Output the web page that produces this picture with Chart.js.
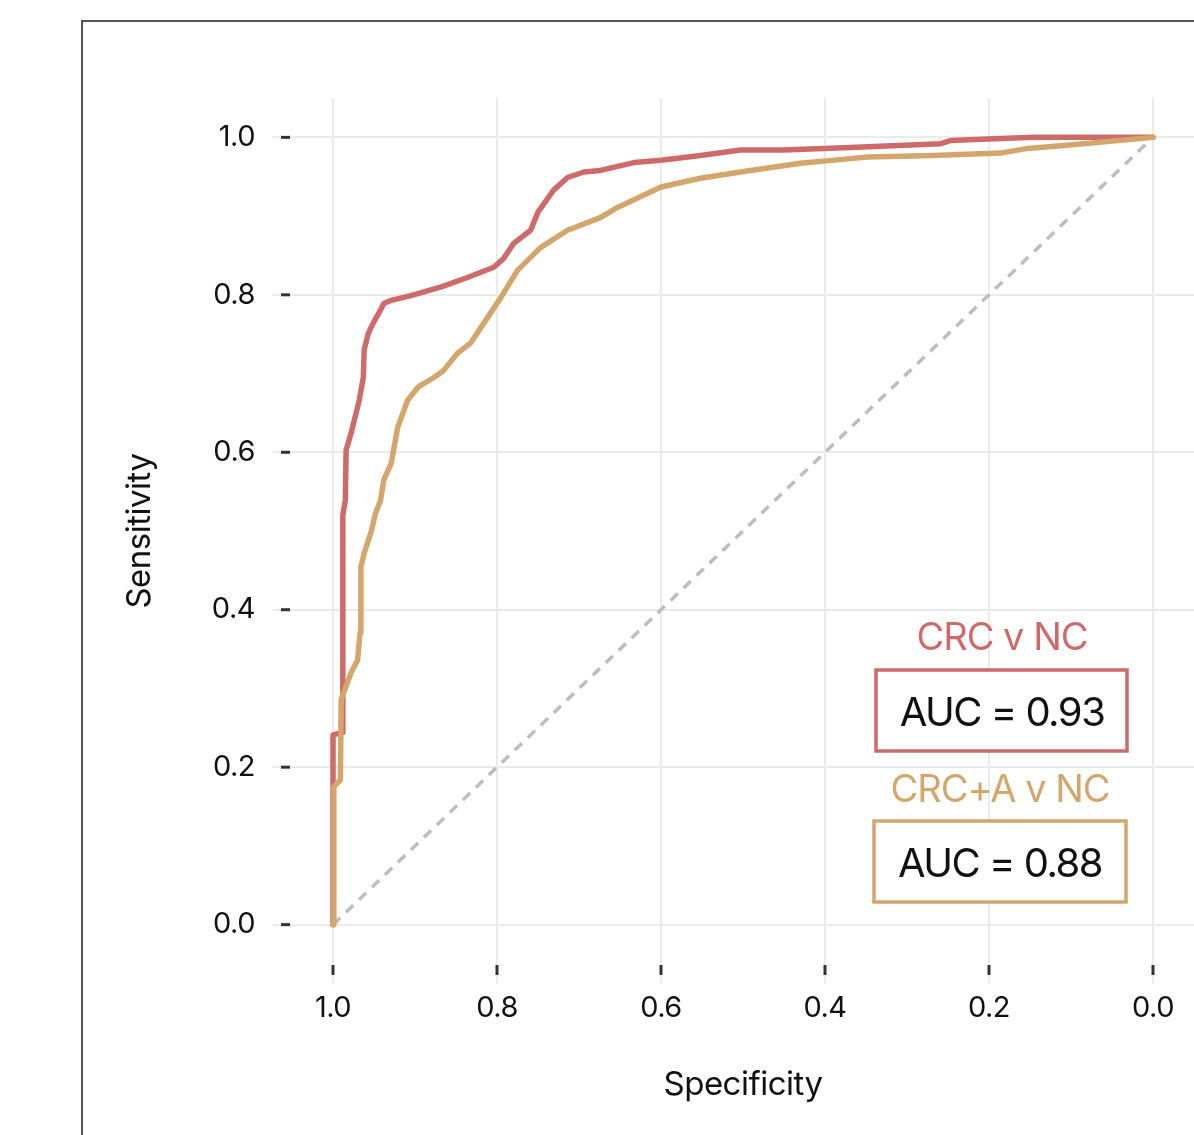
<!DOCTYPE html>
<html lang="en">
<head>
<meta charset="UTF-8">
<title>ROC - CRC v NC</title>
<script src="https://cdn.jsdelivr.net/npm/chart.js"></script>
<style>
  html, body { margin: 0; padding: 0; background: #fff; overflow: hidden; }
  .wrap { position: relative; width: 1194px; height: 1135px; }
  .frame { position: absolute; left: 81px; top: 20px; width: 1300px; height: 1300px; border: 2px solid #555; pointer-events: none; }
  canvas { position: absolute; left: 0; top: 0; }
</style>
</head>
<body>
<div class="wrap">
  <canvas id="roc" width="1194" height="1135"></canvas>
  <div class="frame"></div>
</div>
<script>
// CRC v NC
const crcSpec = [1.000, 1.000, 0.989, 0.988, 0.985, 0.984, 0.978, 0.968, 0.963, 0.962, 0.957, 0.951, 0.944, 0.938, 0.929, 0.905, 0.868, 0.836, 0.804, 0.792, 0.780, 0.759, 0.750, 0.731, 0.714, 0.694, 0.674, 0.633, 0.600, 0.552, 0.503, 0.451, 0.369, 0.259, 0.247, 0.146, 0.000];
const crcSens = [0.000, 0.241, 0.244, 0.520, 0.539, 0.603, 0.624, 0.666, 0.695, 0.730, 0.751, 0.764, 0.777, 0.789, 0.793, 0.799, 0.810, 0.822, 0.835, 0.846, 0.865, 0.882, 0.905, 0.933, 0.949, 0.956, 0.958, 0.968, 0.971, 0.977, 0.984, 0.984, 0.987, 0.992, 0.996, 1.000, 1.000];

// CRC+A v NC
const crcaSpec = [1.000, 0.999, 0.991, 0.990, 0.978, 0.970, 0.967, 0.966, 0.962, 0.954, 0.948, 0.942, 0.938, 0.929, 0.921, 0.909, 0.896, 0.877, 0.865, 0.848, 0.832, 0.811, 0.795, 0.775, 0.747, 0.714, 0.674, 0.653, 0.600, 0.552, 0.491, 0.430, 0.369, 0.348, 0.268, 0.186, 0.153, 0.105, 0.000];
const crcaSens = [0.000, 0.175, 0.184, 0.286, 0.320, 0.336, 0.371, 0.454, 0.472, 0.497, 0.523, 0.539, 0.565, 0.586, 0.632, 0.666, 0.683, 0.695, 0.704, 0.726, 0.739, 0.772, 0.797, 0.831, 0.860, 0.882, 0.898, 0.911, 0.937, 0.948, 0.958, 0.967, 0.973, 0.975, 0.977, 0.980, 0.986, 0.990, 1.000];

const diagSpec = [1, 0];
const diagSens = [0, 1];

const groupNames = ['CRC v NC', 'CRC+A v NC'];
const aucValues = [0.93, 0.88];
const tickValues = [0, 0.2, 0.4, 0.6, 0.8, 1.0];

const red = '#cd6b6b';
const tan = '#d4a66c';

const toPoints = (xs, ys) => xs.map((x, i) => ({ x: x, y: ys[i] }));

// tick dashes + AUC boxes
const extras = {
  id: 'extras',
  beforeDraw(chart) {
    chart.ctx.letterSpacing = '-0.5px';
  },
  afterDraw(chart) {
    const ctx = chart.ctx, xs = chart.scales.x, ys = chart.scales.y;
    ctx.save();
    ctx.strokeStyle = '#333';
    ctx.lineWidth = 3;
    tickValues.forEach(v => {
      const px = xs.getPixelForValue(v);
      ctx.beginPath(); ctx.moveTo(px, ys.bottom + 1); ctx.lineTo(px, ys.bottom + 11); ctx.stroke();
      const py = ys.getPixelForValue(v);
      ctx.beginPath(); ctx.moveTo(xs.left - 11, py); ctx.lineTo(xs.left - 2, py); ctx.stroke();
    });

    const colors = [red, tan];
    const boxes = [
      { cx: 1002, nameY: 650, x: 876, y: 670, w: 251, h: 81, aucY: 726 },
      { cx: 1000, nameY: 802, x: 874, y: 821, w: 252, h: 81, aucY: 877 }
    ];
    ctx.textAlign = 'center';
    ctx.textBaseline = 'alphabetic';
    boxes.forEach((b, i) => {
      ctx.letterSpacing = '-1px';
      ctx.fillStyle = colors[i];
      ctx.font = '38px Inter';
      ctx.fillText(groupNames[i], b.cx, b.nameY);
      ctx.fillStyle = '#fff';
      ctx.fillRect(b.x, b.y, b.w, b.h);
      ctx.strokeStyle = colors[i];
      ctx.lineWidth = 3.5;
      ctx.strokeRect(b.x, b.y, b.w, b.h);
      ctx.fillStyle = '#111';
      ctx.font = '40px Inter';
      ctx.letterSpacing = '-1.5px';
      ctx.fillText('AUC = ' + aucValues[i].toFixed(2), b.cx, b.aucY);
    });
    ctx.restore();
  }
};

Chart.defaults.font.family = 'Inter';
Chart.defaults.color = '#111';

new Chart(document.getElementById('roc'), {
  type: 'scatter',
  data: {
    datasets: [
      {
        label: 'Chance',
        data: toPoints(diagSpec, diagSens),
        showLine: true,
        borderColor: '#bdbdbd',
        borderWidth: 3.5,
        borderDash: [10, 8],
        pointRadius: 0,
        order: 3
      },
      {
        label: groupNames[0],
        data: toPoints(crcSpec, crcSens),
        showLine: true,
        borderColor: red,
        borderWidth: 5.5,
        borderJoinStyle: 'round',
        borderCapStyle: 'round',
        pointRadius: 0,
        tension: 0,
        order: 2
      },
      {
        label: groupNames[1],
        data: toPoints(crcaSpec, crcaSens),
        showLine: true,
        borderColor: tan,
        borderWidth: 5.5,
        borderJoinStyle: 'round',
        borderCapStyle: 'round',
        pointRadius: 0,
        tension: 0,
        order: 1
      }
    ]
  },
  options: {
    responsive: false,
    animation: false,
    layout: { padding: { top: 98, right: 0, bottom: 0, left: 0 } },
    plugins: { legend: { display: false }, tooltip: { enabled: false } },
    scales: {
      x: {
        type: 'linear',
        reverse: true,
        min: -0.05,
        max: 1.05,
        afterBuildTicks: s => { s.ticks = tickValues.map(v => ({ value: v })); },
        afterFit: s => { s.height = 171; },
        border: { display: false },
        grid: { color: '#ebebeb', lineWidth: 2, drawTicks: true, tickLength: 19, tickColor: '#ebebeb' },
        ticks: { padding: 8, font: { size: 29 }, color: '#111', callback: v => Number(v).toFixed(1) },
        title: { display: true, text: 'Specificity', font: { size: 33 }, color: '#111', padding: { top: 0, bottom: 30 } }
      },
      y: {
        type: 'linear',
        min: -0.05,
        max: 1.05,
        afterBuildTicks: s => { s.ticks = tickValues.map(v => ({ value: v })); },
        afterFit: s => { s.width = 292; },
        border: { display: false },
        grid: { color: '#ebebeb', lineWidth: 2, drawTicks: true, tickLength: 19, tickColor: '#ebebeb' },
        ticks: { padding: 18, font: { size: 29 }, color: '#111', callback: v => Number(v).toFixed(1) },
        title: { display: true, text: 'Sensitivity', font: { size: 33 }, color: '#111', padding: { top: 120, bottom: 0 } }
      }
    }
  },
  plugins: [extras]
});
</script>
</body>
</html>
